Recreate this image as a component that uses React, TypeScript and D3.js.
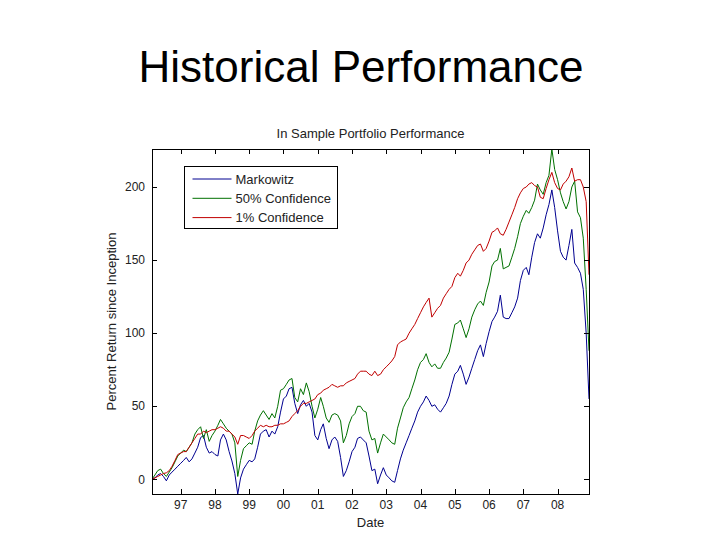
import React from 'react';
import * as d3 from 'd3';

// monthly index values, March 1996 .. December 2008
const startMonth = new Date(1996, 2, 1);

const markowitz = [
  0, 1, 3, 4, 2, -1, 3, 5, 7, 9,
  11, 13, 15, 12, 14, 18, 22, 28.6, 30, 22, 18, 19,
  17, 16, 27, 31, 27, 19, 12.6, 4, -10, 1, 7, 10,
  13, 12, 14, 22, 31, 33, 34, 29, 33, 31, 36, 46,
  55, 57, 62, 63, 52, 45, 51, 54, 50, 52, 46, 30,
  27, 34, 38, 28, 21, 27, 29, 26, 15, 2, 6, 12,
  19, 22, 28, 29, 27, 25, 16, 6, 7, -3, 3, 8,
  3, 1, -1, -2, 6, 14, 20, 25, 30, 35, 40, 46,
  50, 53, 57, 54, 50, 51, 48, 46, 49, 52, 57, 65,
  72, 74, 78, 72, 65, 70, 76, 82, 88, 92, 84, 93,
  101, 108, 111, 115, 126, 111, 110, 110, 114, 118, 124, 136,
  143, 145, 140, 152, 162, 168, 165, 172, 181, 188, 198, 186,
  170, 156, 152, 150, 160, 171, 148, 145, 141, 130, 100, 55,
];

const conf50 = [
  0, 3, 6, 7, 4, 2, 5, 8, 12, 16,
  18, 20, 19, 22, 25, 31, 34, 36, 28, 34, 26, 30,
  33, 37, 41, 38, 35, 33, 31, 25, 2, 13, 21, 23,
  25, 24, 33, 40, 44, 47, 44, 41, 45, 42, 50, 61,
  62, 65, 68, 69, 56, 53, 62, 58, 66, 60, 50, 42,
  48, 56, 50, 42, 39, 44, 45, 44, 40, 25, 30, 38,
  43, 45, 50, 50, 47, 46, 33, 27, 28, 18, 25, 31,
  29, 27, 25, 24, 35, 42, 49, 53, 56, 62, 68, 75,
  80, 82, 86, 80, 77, 79, 76, 76, 80, 83, 87, 96,
  106, 107, 109, 103, 97, 103, 111, 116, 120, 122, 119, 128,
  135, 146, 149, 150, 158, 144, 145, 146, 152, 158, 166, 175,
  180, 184, 182, 186, 191, 202, 198, 195, 203, 208, 226, 212,
  205, 196, 190, 185, 190, 200, 204, 183, 179, 165, 130, 88,
];

const conf1 = [
  0, 1, 2, 3, 4, 4.5, 6, 9, 13, 17,
  18, 19, 19, 22, 25, 28, 31, 31, 33, 32, 33, 34,
  34, 35, 36, 35, 33, 33, 31, 29, 24, 30, 30, 29,
  28, 30, 33, 35, 37, 36, 37, 36, 36, 37, 37, 38,
  38, 39, 40, 43, 45, 47, 50, 52, 52, 53, 54, 55,
  58, 59, 61, 62, 63, 65, 64, 63, 64, 64, 66, 67,
  68, 69, 72, 74, 74, 74, 72, 71, 74, 71, 72, 75,
  77, 79, 81, 84, 92, 94, 95, 96, 100, 103, 106, 110,
  114, 118, 121, 124, 111, 114, 117, 119, 124, 127, 130, 132,
  138, 141, 139, 143, 148, 150, 154, 157, 160, 161, 156, 158,
  163, 169, 170, 172, 168, 167, 171, 176, 181, 186, 192, 196,
  199, 200, 202, 203, 201, 200, 193, 192, 199, 205, 210, 203,
  199, 198, 202, 204, 207, 213, 204, 205, 205, 200, 190, 140,
];

const seriesNames = ['Markowitz', '50% Confidence', '1% Confidence'];
const seriesColors = ['#000090', '#007000', '#c00000'];
const xTickYears = [1997, 1998, 1999, 2000, 2001, 2002, 2003, 2004, 2005, 2006, 2007, 2008];
const yTickValues = [0, 50, 100, 150, 200];

const W = 720;
const H = 540;
const margin = { left: 152, top: 149, right: 131, bottom: 46 };
const font = 'Arial, "Liberation Sans", sans-serif';

export default function App() {
  const series = [markowitz, conf50, conf1];
  const dates = markowitz.map((_, i) => d3.timeMonth.offset(startMonth, i));

  const x = d3.scaleTime()
    .domain(d3.extent(dates) as [Date, Date])
    .range([margin.left, W - margin.right]);
  const allValues = series.flat();
  const y = d3.scaleLinear()
    .domain(d3.extent(allValues) as [number, number])
    .range([H - margin.bottom, margin.top]);

  const line = d3.line<number>()
    .x((_, i) => x(dates[i]))
    .y(d => y(d));

  const x0 = margin.left;
  const x1 = W - margin.right;
  const y0 = margin.top;
  const y1 = H - margin.bottom;
  const tickLen = 5;
  const yearFmt = d3.timeFormat('%y');

  // legend layout
  const lg = { x: 184.5, y: 166.5, w: 153, h: 62, row: 19.3 };

  return (
    <svg width={W} height={H} style={{ position: 'absolute', left: 0, top: 0, background: '#fff' }}
      fontFamily={font}>
      <rect width={W} height={H} fill="#fff" />

      {/* slide title */}
      <text x={361} y={82} fontSize={44} textAnchor="middle" fill="#000">Historical Performance</text>

      {/* axes title */}
      <text x={(x0 + x1) / 2} y={138} fontSize={13} textAnchor="middle" fill="#222">In Sample Portfolio Performance</text>

      {/* data */}
      <g clipPath="url(#plotClip)">
        {series.map((s, i) => (
          <path key={i} d={line(s) || ''} fill="none" stroke={seriesColors[i]} strokeWidth={1} />
        ))}
      </g>
      <defs>
        <clipPath id="plotClip">
          <rect x={x0} y={y0 - 1} width={x1 - x0} height={y1 - y0 + 2} />
        </clipPath>
      </defs>

      {/* axes box and inward ticks */}
      <g shapeRendering="crispEdges" stroke="#000" strokeWidth={1}>
        <rect x={x0} y={y0} width={x1 - x0} height={y1 - y0} fill="none" />
        {xTickYears.map(yr => {
          const px = Math.round(x(new Date(yr, 0, 1))) + 0.5;
          return (
            <g key={yr}>
              <line x1={px} x2={px} y1={y1} y2={y1 - tickLen} />
              <line x1={px} x2={px} y1={y0} y2={y0 + tickLen} />
            </g>
          );
        })}
        {yTickValues.map(v => {
          const py = Math.round(y(v)) + 0.5;
          return (
            <g key={v}>
              <line x1={x0} x2={x0 + tickLen} y1={py} y2={py} />
              <line x1={x1} x2={x1 - tickLen} y1={py} y2={py} />
            </g>
          );
        })}
      </g>

      {/* tick labels */}
      {xTickYears.map(yr => (
        <text key={yr} x={x(new Date(yr, 0, 1))} y={509} fontSize={12} textAnchor="middle" fill="#222">
          {yearFmt(new Date(yr, 0, 1))}
        </text>
      ))}
      {yTickValues.map(v => (
        <text key={v} x={145} y={y(v)} dy="0.35em" fontSize={12} textAnchor="end" fill="#222">{v}</text>
      ))}

      {/* axis labels */}
      <text x={(x0 + x1) / 2} y={527} fontSize={13} textAnchor="middle" fill="#222">Date</text>
      <text transform={`translate(116, ${(y0 + y1) / 2}) rotate(-90)`} fontSize={13} textAnchor="middle" fill="#222">
        Percent Return since Inception
      </text>

      {/* legend */}
      <g>
        <rect x={lg.x} y={lg.y} width={lg.w} height={lg.h} fill="#fff" stroke="#000" shapeRendering="crispEdges" />
        {seriesNames.map((name, i) => {
          const ly = lg.y + 12.5 + i * lg.row;
          return (
            <g key={name}>
              <line x1={lg.x + 8} x2={lg.x + 47} y1={ly} y2={ly} stroke={seriesColors[i]} strokeWidth={1} />
              <text x={lg.x + 51} y={ly} dy="0.35em" fontSize={13} fill="#222">{name}</text>
            </g>
          );
        })}
      </g>
    </svg>
  );
}
